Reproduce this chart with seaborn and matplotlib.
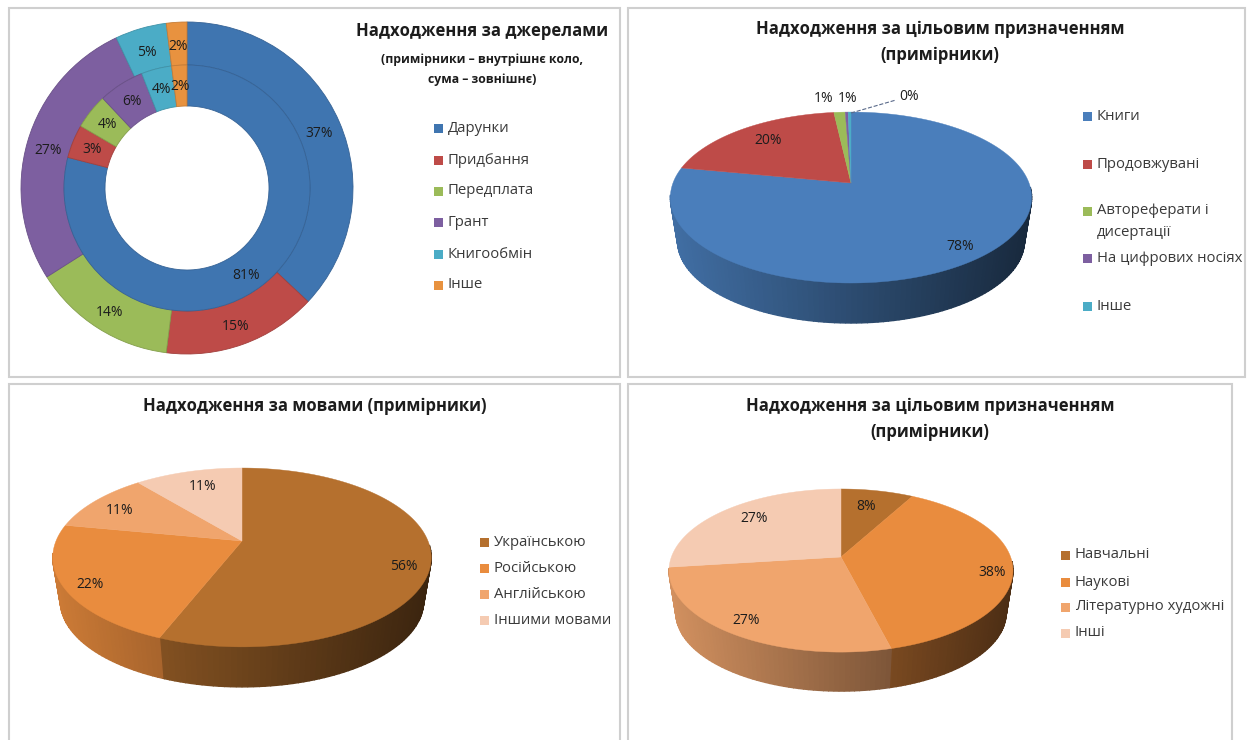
"""
Four library acquisition charts on one sheet: a double donut and three
tilted pies. The tilted pies are projected by hand since matplotlib has no 3D pie.
"""

import matplotlib.pyplot as plt
import numpy as np
import seaborn as sns
from matplotlib.patches import Rectangle

# ==============================================================================
# DATA
# ==============================================================================
SOURCE_NAMES = ["Дарунки", "Придбання", "Передплата", "Грант", "Книгообмін", "Інше"]
SOURCE_SUM = [37, 15, 14, 27, 5, 2]
SOURCE_COPIES = [79, 4.4, 4.6, 6, 4, 2]
SOURCE_COPIES_LABELS = ["81%", "3%", "4%", "6%", "4%", "2%"]

PURPOSE_NAMES = [
    "Книги",
    "Продовжувані",
    "Автореферати і\nдисертації",
    "На цифрових носіях",
    "Інше",
]
PURPOSE_VALUES = [78, 20.2, 1.2, 0.3, 0.3]
PURPOSE_LABELS = ["78%", "20%", "1%", "1%", "0%"]

LANGUAGE_NAMES = ["Українською", "Російською", "Англійською", "Іншими мовами"]
LANGUAGE_VALUES = [56, 22, 11, 11]
LANGUAGE_LABELS = ["56%", "22%", "11%", "11%"]

TARGET_NAMES = ["Навчальні", "Наукові", "Літературно художні", "Інші"]
TARGET_VALUES = [8, 38, 27, 27]
TARGET_LABELS = ["8%", "38%", "27%", "27%"]

# ==============================================================================
# STYLE
# ==============================================================================
OFFICE_COLORS = sns.color_palette(
    ["#3F75B0", "#BE4B48", "#9BBB59", "#7D5FA0", "#4BACC6", "#E8923F"]
)
PURPOSE_COLORS = sns.color_palette(
    ["#4A7EBB", "#BE4B48", "#9BBB59", "#7D5FA0", "#4BACC6"]
)
ORANGE_COLORS = sns.color_palette(["#B5702E", "#E98C3E", "#F0A56D", "#F5CBB2"])

TEXT_DARK = "#1c1c1c"
TEXT_LEGEND = "#3a3a3a"
FRAME_COLOR = "#cfcfcf"
VALUE_SIZE = 10
LEGEND_SIZE = 10.7

sns.set_theme(style="white")
plt.rcParams["font.family"] = ["Open Sans", "DejaVu Sans"]


def project(theta, radius, pie):
    """Maps clockwise-from-top degrees on the tilted disc to pixel coordinates."""
    rad = np.radians(theta)
    u = radius * np.sin(rad)
    v = radius * np.cos(rad)
    den = 1 + pie["tilt"] * v
    return pie["cx"] + pie["rx"] * u / den, pie["cy"] - pie["ry"] * v / den


def draw_tilted_pie(ax, values, colors, pie):
    """Draws the wall strips first, then the top wedges over them."""
    edges = np.concatenate([[0], np.cumsum(values)]) / np.sum(values) * 360

    # The base disc is a bit smaller than the top one, further from the viewer
    shrink = 0.96
    base = dict(pie, rx=pie["rx"] * shrink, ry=pie["ry"] * shrink)
    base["cy"] = pie["cy"] + pie["depth"] + (1 - shrink) * pie["ry"] / (1 - pie["tilt"])

    # Side wall, each thin strip gets darker towards the right
    for start, end, color in zip(edges[:-1], edges[1:], colors):
        lo, hi = max(start, 93), min(end, 262)
        if hi <= lo:
            continue
        steps = np.arange(lo, hi + 1.5, 1.5).clip(max=hi)
        for a, b in zip(steps[:-1], steps[1:]):
            xa, ya = project(a, 1, pie)
            xb, yb = project(b, 1, pie)
            xc, yc = project(b, 1, base)
            xd, yd = project(a, 1, base)
            pos = ((xa + xb) / 2 - pie["cx"]) / pie["rx"]
            shade = tuple(np.array(color) * (0.6 - 0.27 * pos))
            ax.fill(
                [xa, xb, xc, xd],
                [ya, yb, yc, yd],
                facecolor=shade,
                edgecolor=shade,
                linewidth=1.0,
            )

    for start, end, color in zip(edges[:-1], edges[1:], colors):
        arc = np.linspace(start, end, max(int(end - start), 2) + 1)
        xs, ys = project(arc, 1, pie)
        ax.fill(
            np.r_[pie["cx"], xs],
            np.r_[pie["cy"], ys],
            color=color,
            linewidth=0.3,
        )


def put_labels(ax, labels, positions):
    for label, (x, y) in zip(labels, positions):
        ax.text(x, y, label, fontsize=VALUE_SIZE, color=TEXT_DARK, ha="center", va="center")


def put_legend(ax, names, colors, x, ys):
    """Excel spaces these legends unevenly, so rows are placed one by one."""
    for name, color, y in zip(names, colors, ys):
        ax.add_patch(Rectangle((x - 4.5, y - 4.5), 9, 9, color=color, linewidth=0))
        lines = name.split("\n")
        for i, line in enumerate(lines):
            ax.text(
                x + 9,
                y + i * 21,
                line,
                fontsize=LEGEND_SIZE,
                color=TEXT_LEGEND,
                ha="left",
                va="center",
            )


def put_title(ax, x, y, text, size=12):
    ax.text(
        x,
        y,
        text,
        fontsize=size,
        fontweight="bold",
        color=TEXT_DARK,
        ha="center",
        va="center",
    )


def draw_source_panel(ax):
    center = (187, 188)
    # y axis is inverted, so counterclock here reads clockwise on screen
    ring = dict(center=center, startangle=270, counterclock=True, frame=True)

    outer_labels = iter([f"{v}%" for v in SOURCE_SUM])
    inner_labels = iter(SOURCE_COPIES_LABELS)
    outer_wedges, _, outer_text = ax.pie(
        SOURCE_SUM,
        colors=OFFICE_COLORS,
        radius=166,
        autopct=lambda p: next(outer_labels),
        pctdistance=0.87,
        wedgeprops=dict(width=43),
        **ring,
    )
    inner_wedges, _, inner_text = ax.pie(
        SOURCE_COPIES,
        colors=OFFICE_COLORS,
        radius=123,
        autopct=lambda p: next(inner_labels),
        pctdistance=0.83,
        wedgeprops=dict(width=41),
        **ring,
    )
    # A slightly darker outline keeps the two blue rings apart
    for wedges in (outer_wedges, inner_wedges):
        for wedge, color in zip(wedges, OFFICE_COLORS):
            wedge.set_edgecolor(tuple(np.array(color) * 0.85))
            wedge.set_linewidth(0.6)

    for text in list(outer_text) + list(inner_text):
        text.set_fontsize(VALUE_SIZE)
        text.set_color(TEXT_DARK)
    # Excel sits these a little lower than the ring middle
    for text in outer_text:
        x, y = text.get_position()
        text.set_position((x, y + 3))
    x, y = inner_text[0].get_position()
    inner_text[0].set_position((x - 4, y + 7))

    put_title(ax, 482, 31, "Надходження за джерелами")
    put_title(ax, 482, 60, "(примірники – внутрішнє коло,", size=8.8)
    put_title(ax, 482, 79, "сума – зовнішнє)", size=8.8)
    put_legend(ax, SOURCE_NAMES, OFFICE_COLORS, 439, [128, 160, 191, 222, 254, 285])


def draw_purpose_panel(ax):
    pie = dict(cx=851, cy=183, rx=178, ry=83, tilt=0.17, depth=40)
    draw_tilted_pie(ax, PURPOSE_VALUES, PURPOSE_COLORS, pie)
    put_labels(ax, PURPOSE_LABELS, [(960, 247), (768, 141), (824, 99), (848, 99), (909, 97)])
    ax.plot([851, 896], [113, 100], color="#5a6a8a", linewidth=0.8, linestyle="--")

    put_title(ax, 940, 29, "Надходження за цільовим призначенням")
    put_title(ax, 940, 55, "(примірники)")
    put_legend(ax, PURPOSE_NAMES, PURPOSE_COLORS, 1088, [116, 164, 211, 258, 306])


def draw_language_panel(ax):
    pie = dict(cx=242, cy=541, rx=186, ry=86.4, tilt=0.184, depth=40)
    draw_tilted_pie(ax, LANGUAGE_VALUES, ORANGE_COLORS, pie)
    put_labels(ax, LANGUAGE_LABELS, [(404, 567), (90, 584), (120, 510), (203, 486)])

    put_title(ax, 315, 406, "Надходження за мовами (примірники)")
    put_legend(ax, LANGUAGE_NAMES, ORANGE_COLORS, 485, [542, 568, 594, 620])


def draw_target_panel(ax):
    pie = dict(cx=841, cy=557, rx=169.6, ry=79.3, tilt=0.166, depth=39)
    draw_tilted_pie(ax, TARGET_VALUES, ORANGE_COLORS, pie)
    put_labels(ax, TARGET_LABELS, [(866, 506), (992, 572), (746, 621), (754, 518)])

    put_title(ax, 930, 406, "Надходження за цільовим призначенням")
    put_title(ax, 930, 432, "(примірники)")
    put_legend(ax, TARGET_NAMES, ORANGE_COLORS, 1066, [555, 582, 607, 633])


def main():
    fig = plt.figure(figsize=(12.49, 7.40), dpi=100)
    ax = fig.add_axes([0, 0, 1, 1])
    # Work in image pixels with y running down
    ax.set_xlim(0, 1249)
    ax.set_ylim(740, 0)

    for x, y, w, h in [
        (9, 8, 611, 369),
        (628, 8, 617, 369),
        (9, 384, 611, 370),
        (628, 384, 604, 370),
    ]:
        ax.add_patch(
            Rectangle((x, y), w, h, facecolor="white", edgecolor=FRAME_COLOR, linewidth=1.5)
        )

    draw_source_panel(ax)
    draw_purpose_panel(ax)
    draw_language_panel(ax)
    draw_target_panel(ax)

    ax.set_xlim(0, 1249)
    ax.set_ylim(740, 0)
    ax.set_axis_off()
    fig.savefig("out.png", dpi=100)
    plt.close(fig)


if __name__ == "__main__":
    main()
